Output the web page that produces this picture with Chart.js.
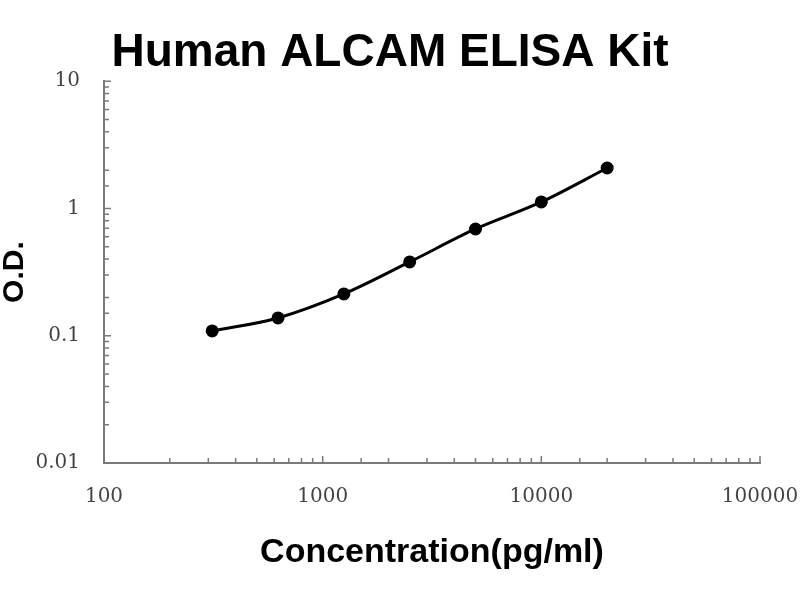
<!DOCTYPE html>
<html>
<head>
<meta charset="utf-8">
<script src="https://cdn.jsdelivr.net/npm/chart.js@4.4.1/dist/chart.umd.min.js"></script>
<style>
  html, body { margin: 0; background: #fff; }
  #wrap { width: 800px; height: 600px; }
</style>
</head>
<body>
<div id="wrap"><canvas id="chart"></canvas></div>
<script>
// standard curve points
const concentrations = [312.5, 625, 1250, 2500, 5000, 10000, 20000];
const odValues = [0.109, 0.138, 0.213, 0.38, 0.69, 1.125, 2.08];
const xTickLabels = ['100', '1000', '10000', '100000'];
const yTickLabels = ['0.01', '0.1', '1', '10'];

const isPow10 = (v) => Math.abs(Math.log10(v) - Math.round(Math.log10(v))) < 1e-6;

// minor / major tick marks drawn inside the plot, like the original
const insideTicks = {
  id: 'insideTicks',
  afterDraw(chart) {
    const ctx = chart.ctx;
    const { x, y } = chart.scales;
    ctx.save();
    ctx.strokeStyle = '#7a7a7a';
    ctx.lineWidth = 1.5;
    ctx.beginPath();
    x.ticks.forEach(t => {
      const px = x.getPixelForValue(t.value);
      const len = isPow10(t.value) ? 7 : 5;
      ctx.moveTo(px, y.bottom);
      ctx.lineTo(px, y.bottom - len);
    });
    y.ticks.forEach(t => {
      const py = y.getPixelForValue(t.value);
      const len = isPow10(t.value) ? 7 : 5;
      ctx.moveTo(x.left, py);
      ctx.lineTo(x.left + len, py);
    });
    ctx.stroke();
    ctx.restore();
  }
};

const tickFont = { family: '"DejaVu Serif", serif', size: 20 };
const boldSans = '"Liberation Sans", Arial, sans-serif';

new Chart(document.getElementById('chart'), {
  type: 'line',
  data: {
    datasets: [{
      data: concentrations.map((c, i) => ({ x: c, y: odValues[i] })),
      borderColor: '#000',
      backgroundColor: '#000',
      borderWidth: 3,
      pointRadius: 5,
      pointHoverRadius: 5,
      tension: 0.4,
      cubicInterpolationMode: 'monotone',
      fill: false
    }]
  },
  plugins: [insideTicks],
  options: {
    responsive: true,
    maintainAspectRatio: false,
    animation: false,
    layout: { padding: { left: 0, right: 20, top: 0, bottom: 0 } },
    plugins: {
      legend: { display: false },
      tooltip: { enabled: false },
      title: {
        display: true,
        text: 'Human ALCAM ELISA Kit',
        color: '#000',
        font: { family: boldSans, size: 46, weight: 'bold', lineHeight: 1.2 },
        padding: { top: 26, bottom: 0 }
      }
    },
    scales: {
      x: {
        type: 'logarithmic',
        min: 100,
        max: 100000,
        grid: { display: false, drawTicks: false },
        border: { display: true, color: '#7a7a7a', width: 2 },
        ticks: {
          color: '#444',
          font: tickFont,
          padding: 22,
          autoSkip: false,
          maxRotation: 0,
          callback: (v) => isPow10(v) ? xTickLabels[Math.round(Math.log10(v)) - 2] : ''
        },
        title: {
          display: true,
          text: 'Concentration(pg/ml)',
          color: '#000',
          font: { family: boldSans, size: 34, weight: 'bold', lineHeight: 1.2 },
          padding: 27
        },
        afterFit: (scale) => {
          scale.height = 137;
          scale.paddingRight = 40;
        }
      },
      y: {
        type: 'logarithmic',
        min: 0.01,
        max: 10,
        grid: { display: false, drawTicks: false },
        border: { display: true, color: '#7a7a7a', width: 2 },
        ticks: {
          color: '#444',
          font: tickFont,
          padding: 24,
          autoSkip: false,
          callback: (v) => isPow10(v) ? yTickLabels[Math.round(Math.log10(v)) + 2] : ''
        },
        title: {
          display: true,
          text: 'O.D.',
          color: '#000',
          font: { family: boldSans, size: 30, weight: 'bold', lineHeight: 1 },
          padding: 0
        },
        afterFit: (scale) => { scale.width = 104; }
      }
    }
  }
});
</script>
</body>
</html>
